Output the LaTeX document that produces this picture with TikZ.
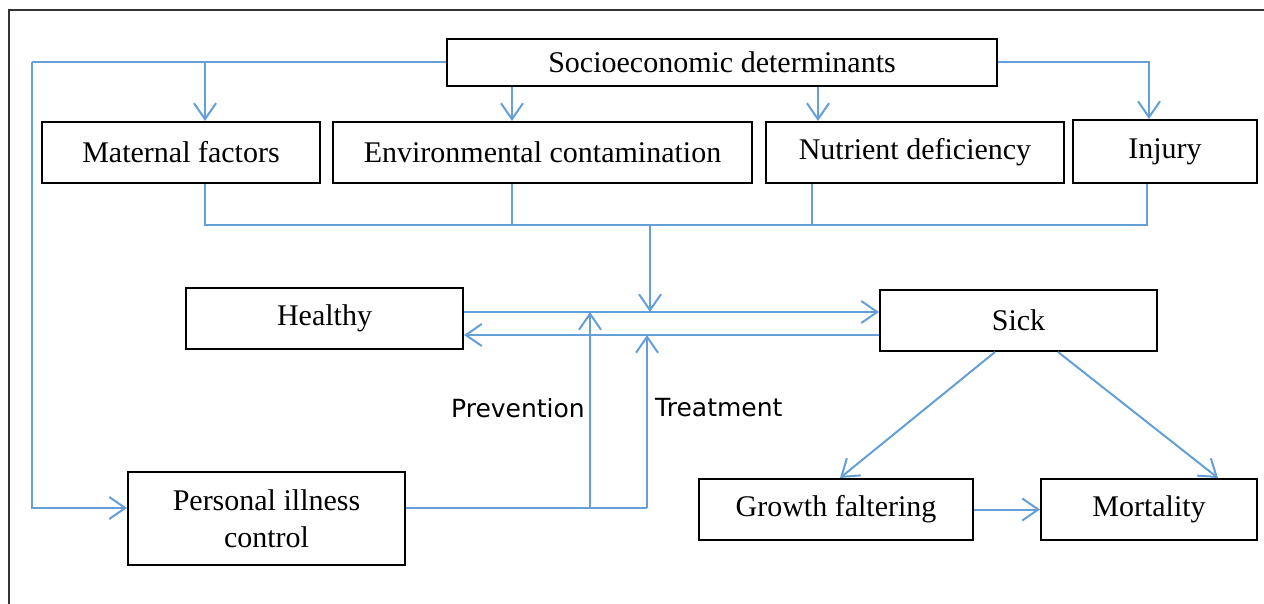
\documentclass[tikz,border=0pt]{standalone}
\usepackage{fontspec}
\setmainfont{Liberation Serif}
\newfontfamily\labfont{DejaVu Sans}
\usetikzlibrary{arrows.meta}
\definecolor{lineblue}{RGB}{100,160,215}
\begin{document}
\begin{tikzpicture}[x=1pt,y=-1pt,
  box/.style={draw=black,line width=2pt,rectangle,inner sep=0pt,fill=white,
    font=\fontsize{30}{37}\selectfont,align=center},
  conn/.style={draw=lineblue,line width=2pt},
  arr/.style={conn,-{Straight Barb[length=16pt,width=22pt,line width=2pt]}},
  lab/.style={font=\labfont\fontsize{25}{28}\selectfont,inner sep=0pt}]
\useasboundingbox (0,0) rectangle (1264,604);
\fill[white] (0,0) rectangle (1264,604);
% outer frame (partly cropped)
\draw[line width=2pt,black!80] (9,604) -- (9,10) -- (1264,10);

% boxes
\node[box,minimum width=550pt,minimum height=47pt] (soc) at (722,62.5) {Socioeconomic determinants};
\node[box,minimum width=278pt,minimum height=61pt] (mat) at (181,152.5) {Maternal factors};
\node[box,minimum width=419pt,minimum height=61pt] (env) at (542.5,152.5) {Environmental contamination};
\node[box,minimum width=298pt,minimum height=61pt] (nut) at (915,152.5) {Nutrient deficiency};
\node[box,minimum width=184pt,minimum height=63pt] (inj) at (1165,151.5) {Injury};
\node[box,minimum width=277pt,minimum height=61pt] (hea) at (324.5,318.5) {Healthy};
\node[box,minimum width=277pt,minimum height=61pt] (sick) at (1018.5,320.5) {Sick};
\node[box,minimum width=277pt,minimum height=93pt] (pic) at (266.5,518.5) {Personal illness\\control};
\node[box,minimum width=274pt,minimum height=61pt] (gro) at (836,509.5) {Growth faltering};
\node[box,minimum width=216pt,minimum height=61pt] (mor) at (1149,509.5) {Mortality};

% helper coordinates
\coordinate (topL) at (32,62);
\coordinate (botL) at (32,508);
\coordinate (dm) at (205,62);
\coordinate (topR) at (1149,62);
\coordinate (cm) at (205,225);
\coordinate (ce) at (512,225);
\coordinate (cn) at (812,225);
\coordinate (ci) at (1147,225);
\coordinate (cmid) at (650,225);
\coordinate (pv) at (590,508);
\coordinate (tr) at (647,508);

% socioeconomic distribution
\draw[conn] (soc.west |- topL) -- (topL);
\draw[arr] (topL) -- (botL) -- (botL -| pic.west);
\draw[arr] (dm) -- (dm |- mat.north);
\draw[arr] (soc.south -| 512,0) -- (env.north -| 512,0);
\draw[arr] (soc.south -| 818,0) -- (nut.north -| 818,0);
\draw[arr] (soc.east |- topR) -- (topR) -- (topR |- inj.north);

% collector
\draw[conn] (mat.south -| cm) -- (cm) -- (ci) -- (ci |- inj.south);
\draw[conn] (env.south -| ce) -- (ce);
\draw[conn] (nut.south -| cn) -- (cn);
\coordinate (hs) at (650,312);
\coordinate (sh) at (650,335);
\draw[arr] (cmid) -- (hs);

% healthy <-> sick
\draw[arr] (hea.east |- hs) -- (sick.west |- hs);
\draw[arr] (sick.west |- sh) -- (hea.east |- sh);

% prevention / treatment
\draw[conn] (pic.east |- tr) -- (tr);
\draw[arr] (pv) -- (pv |- hs);
\draw[arr] (tr) -- (tr |- sh);
\node[lab,anchor=east] (prev) at (585,408) {Prevention};
\node[lab,anchor=west] (treat) at (655,408) {Treatment};

% sick outcomes
\draw[arr] (sick.south -| 995,0) -- (gro.north -| 840,0);
\draw[arr] (sick.south -| 1058,0) -- (mor.north -| 1218,0);
\draw[arr] (gro.east) -- (mor.west);
\end{tikzpicture}
\end{document}
